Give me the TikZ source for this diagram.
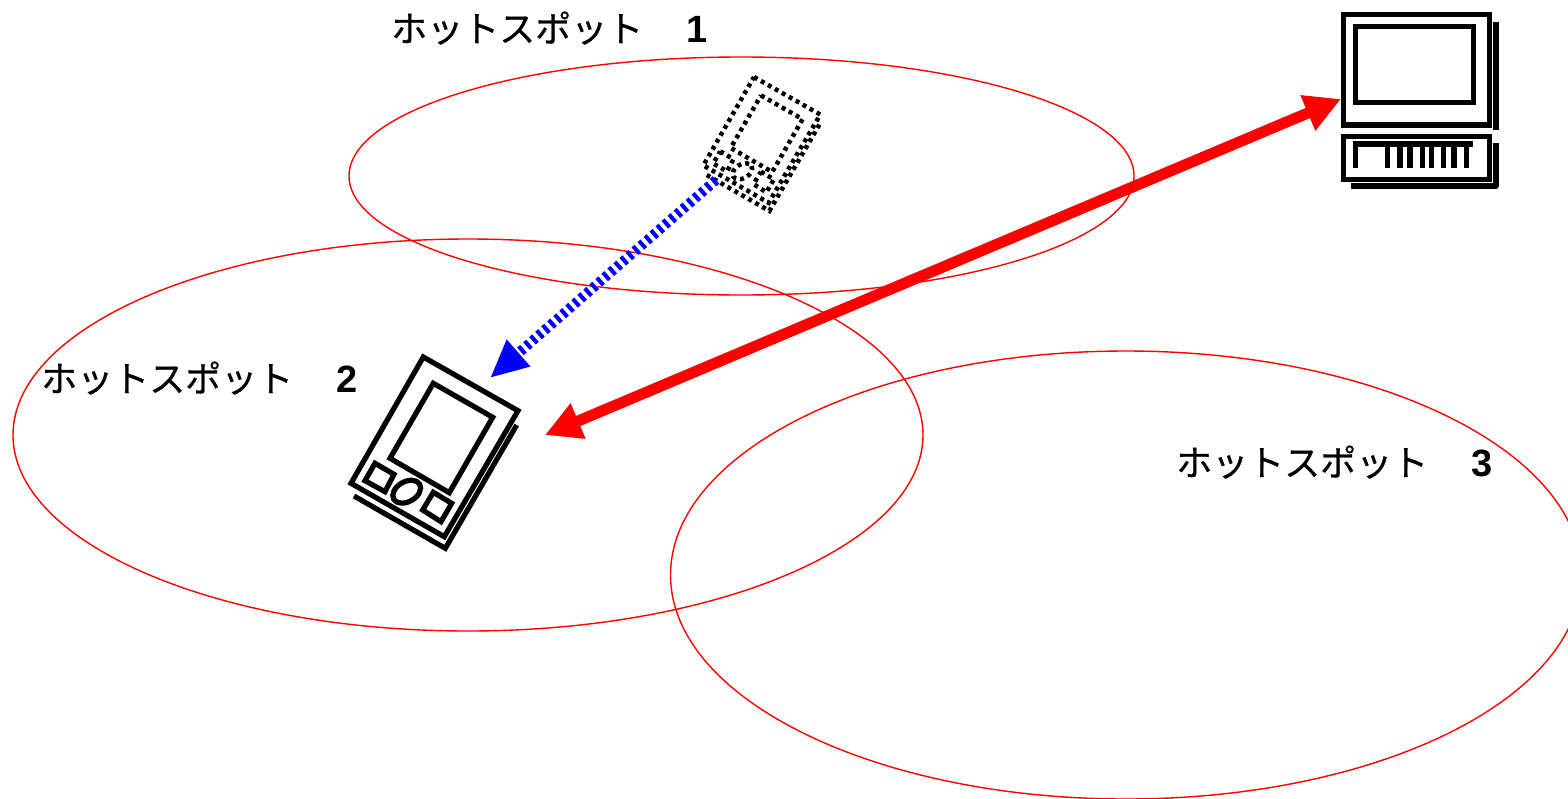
\documentclass[tikz,border=0pt]{standalone}
\usepackage{fontspec}
\setmainfont{Liberation Sans}
\newfontfamily\jpfont[FakeBold=0.6]{Noto Sans CJK JP}
\usetikzlibrary{arrows.meta,shapes.geometric}
\definecolor{hotred}{RGB}{255,0,0}
\definecolor{linkblue}{RGB}{0,0,255}
\tikzset{
  spot/.style={ellipse,draw=hotred,line width=1.4pt,inner sep=0pt,fill=none},
  spotlabel/.style={anchor=base west,inner sep=0pt,font=\fontsize{38}{38}\selectfont},
  device/.style={draw=black,line width=5.2pt,miter limit=10},
  ghost/.style={draw=black,line width=4.5pt,dash pattern=on 4pt off 4pt},
  redlink/.style={draw=hotred,line width=11pt,{Triangle[length=36pt,width=36pt]}-{Triangle[length=36pt,width=36pt]}},
  bluelink/.style={draw=linkblue,line width=10pt,dash pattern=on 4pt off 4pt,-{Triangle[length=38pt,width=33pt]}},
}
\newcommand{\pdadrawing}[1]{%
  \draw[#1] (423.3,357) -- (518,410.7) -- (444.3,536.7) -- (351,483.3) -- cycle;
  \draw[#1] (433.3,383.3) -- (492.7,417.3) -- (449.3,492.7) -- (390,458.3) -- cycle;
  \draw[#1] (375,463.3) -- (394,474.3) -- (385,491.7) -- (365,480.7) -- cycle;
  \draw[#1] (433.3,492.3) -- (451.7,503.3) -- (441,521.7) -- (422.7,510) -- cycle;
  \draw[#1,rotate around={30:(406.7,491.7)}] (406.7,491.7) ellipse [x radius=15,y radius=10];
  \draw[#1] (516.7,425) -- (445.3,548.3) -- (354,496);
}
\newcommand{\spotname}[1]{{\fontsize{36}{36}\selectfont\jpfont ホットスポット}\hspace{43pt}{\bfseries #1}}
\begin{document}
\begin{tikzpicture}[x=1pt,y=-1pt]
\useasboundingbox (0,0) rectangle (1568,798);
% hotspots
\node[spot,minimum width=785pt,minimum height=238pt] (spotA) at (741.5,176) {};
\node[spot,minimum width=910pt,minimum height=392pt] (spotB) at (468,435) {};
\node[spot,minimum width=911pt,minimum height=448pt] (spotC) at (1126,575) {};
% labels
\node[spotlabel] (labelA) at (391,42) {\spotname{1}};
\node[spotlabel] (labelB) at (41,392) {\spotname{2}};
\node[spotlabel] (labelC) at (1176,476) {\spotname{3}};
% handheld at its former place (dotted)
\begin{scope}[shift={(754,77)},scale=0.7,shift={(-423.3,-357)}]
  \pdadrawing{ghost}
\end{scope}
% handheld at its present place
\pdadrawing{device}
% desktop computer
\draw[device] (1343.3,14.3) rectangle (1489.3,125);
\draw[device] (1355.7,26.7) rectangle (1473.3,102.3);
\draw[device] (1343.3,136.7) rectangle (1489.3,179.3);
\draw[device] (1496,21.7) -- (1496,130);
\draw[device,line cap=butt,line join=round] (1496,142.7) -- (1496,186) -- (1350.7,186);
\draw[device] (1355.7,168.3) -- (1355.7,144) -- (1473.3,144);
\foreach \kx in {1387.3,1400,1410,1422.7,1431.7,1443.3,1454,1466.7}
  \draw[device] (\kx,144) -- (\kx,168.3);
% connectors
\coordinate (pcEnd) at (1341,99);
\coordinate (pdaEnd) at (545,435);
\coordinate (ghostEnd) at (716,180);
\coordinate (pdaTop) at (490,378);
\draw[bluelink] (ghostEnd) -- (pdaTop);
\draw[redlink] (pcEnd) -- (pdaEnd);
\end{tikzpicture}
\end{document}
